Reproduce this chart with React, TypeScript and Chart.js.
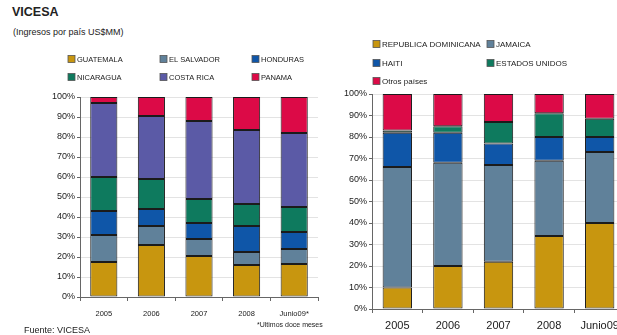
import React, { useEffect, useRef } from "react";
import { Chart, registerables } from "chart.js";
Chart.register(...registerables);

const leftCategories = ["2005", "2006", "2007", "2008", "Junio09*"];
const rightCategories = ["2005", "2006", "2007", "2008", "Junio09"];

const leftSeriesNames = ["GUATEMALA", "EL SALVADOR", "HONDURAS", "NICARAGUA", "COSTA RICA", "PANAMA"];
const guatemala = [17.5, 26, 20.5, 16, 16.5];
const elSalvador = [13.5, 9.5, 8.5, 6.5, 7.5];
const honduras = [12, 8.5, 8, 13, 8.5];
const nicaragua = [17, 15, 12, 11, 12.5];
const costaRica = [37, 31.5, 39, 37, 37];
const panama = [3, 9.5, 12, 16.5, 18];

const rightSeriesNames = ["REPUBLICA DOMINICANA", "JAMAICA", "HAITI", "ESTADOS UNIDOS", "Otros países"];
const repDominicana = [10, 20, 22, 34, 40];
const jamaica = [56, 48, 45, 35, 33];
const haiti = [16, 14, 10, 11, 7];
const estadosUnidos = [1, 3, 10, 11, 8.5];
const otrosPaises = [17, 15, 13, 9, 11.5];

const yTicks = [0, 10, 20, 30, 40, 50, 60, 70, 80, 90, 100];

const GOLD = "#C8960F";
const GREY = "#60819A";
const BLUE = "#0F56A8";
const GREEN = "#0E7A5E";
const PURPLE = "#5B5AA6";
const RED = "#DC0A47";

const FONT = "'Liberation Sans', Arial, sans-serif";

type LegendItem = { label: string; color: string; x: number; y: number };

function legendPlugin(items: LegendItem[], fontSize: number) {
  return {
    id: "customLegend",
    afterDraw(chart: any) {
      const ctx = chart.ctx;
      ctx.save();
      ctx.font = `${fontSize}px ${FONT}`;
      ctx.textBaseline = "middle";
      ctx.textAlign = "left";
      for (const it of items) {
        ctx.fillStyle = it.color;
        ctx.fillRect(it.x, it.y - 3.5, 7, 7);
        ctx.strokeStyle = "#555";
        ctx.lineWidth = 0.8;
        ctx.strokeRect(it.x, it.y - 3.5, 7, 7);
        ctx.fillStyle = "#1a1a1a";
        ctx.fillText(it.label, it.x + 9, it.y + 0.5);
      }
      ctx.restore();
    },
  };
}

function makeConfig(
  categories: string[],
  names: string[],
  series: number[][],
  colors: string[],
  opts: {
    padding: { left: number; right: number; top: number; bottom: number };
    xAxisHeight: number;
    xFont: number;
    xPad: number;
    barPct: number;
    legend: LegendItem[];
    legendFont: number;
  }
) {
  return {
    type: "bar" as const,
    data: {
      labels: categories,
      datasets: series.map((s, i) => ({
        label: names[i],
        data: s,
        backgroundColor: colors[i],
        borderColor: "#1b1b1b",
        borderWidth: 1,
        borderSkipped: false,
        barPercentage: opts.barPct,
        categoryPercentage: 1,
      })),
    },
    options: {
      animation: false,
      responsive: false,
      maintainAspectRatio: false,
      layout: { padding: opts.padding },
      plugins: { legend: { display: false }, tooltip: { enabled: false }, title: { display: false } },
      scales: {
        x: {
          stacked: true,
          afterFit: (s: any) => {
            s.height = opts.xAxisHeight;
          },
          grid: { display: true, drawOnChartArea: false, drawTicks: true, tickLength: 4, color: "#666", offset: true },
          border: { display: true, color: "#666", width: 1 },
          ticks: { color: "#1a1a1a", font: { family: FONT, size: opts.xFont }, padding: opts.xPad, maxRotation: 0, autoSkip: false },
        },
        y: {
          stacked: true,
          min: 0,
          max: 100,
          afterFit: (s: any) => {
            s.width = 40;
          },
          afterBuildTicks: (s: any) => {
            s.ticks = yTicks.map((v) => ({ value: v }));
          },
          grid: { color: "#e3e3e3", lineWidth: 1, drawTicks: true, tickLength: 3, tickColor: "#666" },
          border: { display: true, color: "#666", width: 1 },
          ticks: {
            color: "#1a1a1a",
            font: { family: FONT, size: 9 },
            padding: 2,
            callback: (v: any) => `${v}%`,
          },
        },
      },
    },
    plugins: [legendPlugin(opts.legend, opts.legendFont)],
  };
}

export default function App() {
  const leftRef = useRef<HTMLCanvasElement>(null);
  const rightRef = useRef<HTMLCanvasElement>(null);

  useEffect(() => {
    const left = new Chart(
      leftRef.current!,
      makeConfig(
        leftCategories,
        leftSeriesNames,
        [guatemala, elSalvador, honduras, nicaragua, costaRica, panama],
        [GOLD, GREY, BLUE, GREEN, PURPLE, RED],
        {
          padding: { left: 40, right: 12, top: 97, bottom: 8 },
          xAxisHeight: 30,
          xFont: 7.5,
          xPad: 8,
          barPct: 0.57,
          legendFont: 7.5,
          legend: [
            { label: leftSeriesNames[0], color: GOLD, x: 68, y: 59 },
            { label: leftSeriesNames[1], color: GREY, x: 160, y: 59 },
            { label: leftSeriesNames[2], color: BLUE, x: 252, y: 59 },
            { label: leftSeriesNames[3], color: GREEN, x: 68, y: 77 },
            { label: leftSeriesNames[4], color: PURPLE, x: 160, y: 77 },
            { label: leftSeriesNames[5], color: RED, x: 252, y: 77 },
          ],
        }
      ) as any
    );
    const right = new Chart(
      rightRef.current!,
      makeConfig(
        rightCategories,
        rightSeriesNames,
        [repDominicana, jamaica, haiti, estadosUnidos, otrosPaises],
        [GOLD, GREY, BLUE, GREEN, RED],
        {
          padding: { left: 12, right: 25, top: 94, bottom: 2 },
          xAxisHeight: 24,
          xFont: 11,
          xPad: 6,
          barPct: 0.58,
          legendFont: 8,
          legend: [
            { label: rightSeriesNames[0], color: GOLD, x: 53, y: 44 },
            { label: rightSeriesNames[1], color: GREY, x: 167, y: 44 },
            { label: rightSeriesNames[2], color: BLUE, x: 53, y: 63 },
            { label: rightSeriesNames[3], color: GREEN, x: 167, y: 63 },
            { label: rightSeriesNames[4], color: RED, x: 53, y: 81 },
          ],
        }
      ) as any
    );
    return () => {
      left.destroy();
      right.destroy();
    };
  }, []);

  return (
    <div
      style={{
        position: "fixed",
        left: 0,
        top: 0,
        width: 617,
        height: 335,
        overflow: "hidden",
        background: "#fff",
        fontFamily: FONT,
      }}
    >
      <div style={{ position: "absolute", left: 12, top: 5, fontSize: 12.5, fontWeight: "bold", color: "#222" }}>VICESA</div>
      <div style={{ position: "absolute", left: 13, top: 27, fontSize: 9, color: "#222" }}>(Ingresos por país US$MM)</div>
      <canvas ref={leftRef} width={330} height={335} style={{ position: "absolute", left: 0, top: 0, width: 330, height: 335 }} />
      <canvas ref={rightRef} width={330} height={335} style={{ position: "absolute", left: 320, top: 0, width: 330, height: 335 }} />
      <div style={{ position: "absolute", left: 24, top: 325, fontSize: 9, color: "#222", whiteSpace: "nowrap" }}>Fuente: VICESA</div>
      <div style={{ position: "absolute", left: 257, top: 321, fontSize: 7, color: "#222", whiteSpace: "nowrap" }}>*Ultimos doce meses</div>
    </div>
  );
}
